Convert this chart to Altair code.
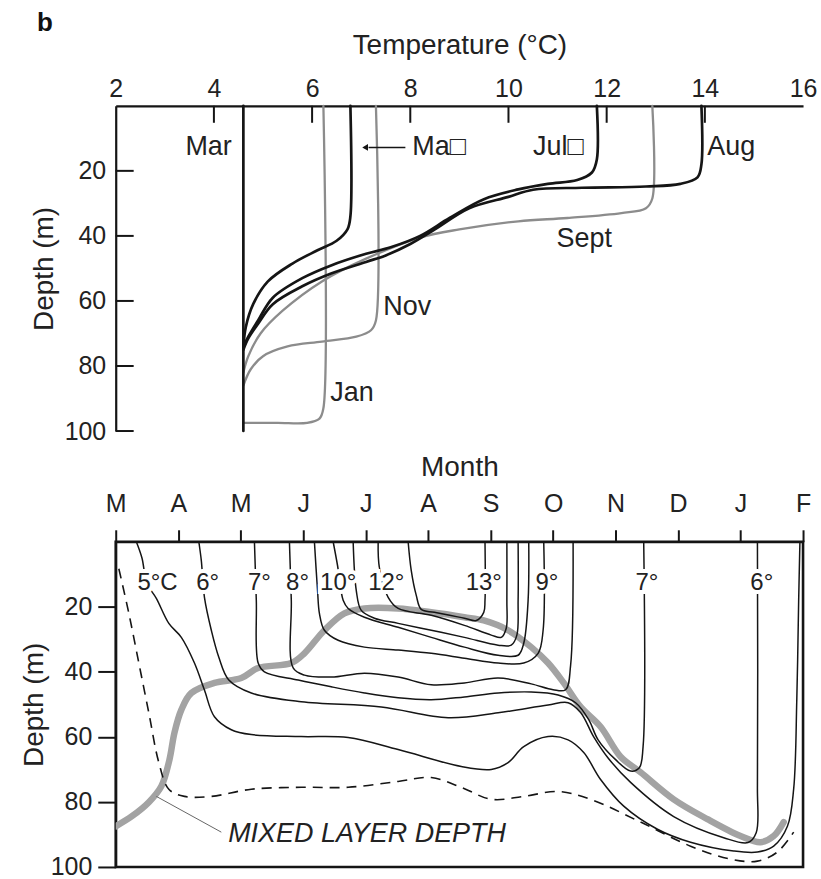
import altair as alt
import pandas as pd

FONT = "Liberation Sans"
INK = "#151515"

# ---------------- top panel: temperature profiles ----------------
TEMP_TICKS = [2, 4, 6, 8, 10, 12, 14, 16]
INNER_TEMP_TICKS = [4, 6, 8, 10, 12, 14]
DEPTH_TICKS = [20, 40, 60, 80, 100]

MAR_T = [4.6, 4.6]
MAR_D = [0, 100]
MAY_T = [6.78, 6.78, 6.72, 6.5, 6.1, 5.6, 5.1, 4.8, 4.65, 4.6]
MAY_D = [0, 34, 38, 41.5, 44.5, 48.5, 54, 61, 68, 74]
JUL_T = [11.8, 11.8, 11.7, 11.4, 10.8, 10.2, 9.5, 8.8, 8.2, 7.6, 7.1, 6.4, 5.8, 5.2, 4.9, 4.7, 4.6]
JUL_D = [0, 16.5, 20.5, 22.8, 24, 25.7, 28.7, 34.5, 40, 43.5, 45.5, 49, 53, 59, 66, 71, 74]
AUG_T = [13.93, 13.93, 13.85, 13.5, 12.8, 11.5, 10.5, 10.0, 9.2, 8.5, 8.0, 7.5, 7.1, 6.4, 5.8, 5.2, 4.9, 4.7, 4.6]
AUG_D = [0, 18, 22, 24, 24.8, 25.2, 25.8, 28, 31.5, 38, 42.5, 46, 48, 51.5, 55.5, 61, 67, 71.5, 75]
SEPT_T = [12.93, 12.93, 12.8, 12.3, 11.2, 10.2, 9.0, 8.2, 7.1, 6.2, 5.4, 4.95, 4.7, 4.6]
SEPT_D = [0, 28.5, 31.5, 33, 34.5, 35.5, 38, 40.5, 47, 54, 63, 70, 77, 82]
NOV_T = [7.3, 7.3, 7.2, 6.9, 6.2, 5.5, 5.0, 4.75, 4.6]
NOV_D = [0, 66, 69, 71, 72.5, 74, 77, 81, 86]
JAN_T = [6.23, 6.23, 6.15, 5.9, 5.3, 4.6]
JAN_D = [0, 93, 96.2, 97.5, 97.5, 97.5]

BLACK_PROFILES = {"Mar": (MAR_T, MAR_D), "May": (MAY_T, MAY_D),
                  "Jul": (JUL_T, JUL_D), "Aug": (AUG_T, AUG_D)}
GREY_PROFILES = {"Sept": (SEPT_T, SEPT_D), "Nov": (NOV_T, NOV_D), "Jan": (JAN_T, JAN_D)}

TLAB_TEXT = ["Mar", "Ma\u25a1", "Jul\u25a1", "Aug", "Sept", "Nov", "Jan"]
TLAB_T = [3.42, 8.04, 10.5, 14.05, 10.98, 7.45, 6.37]
TLAB_D = [12.8, 12.8, 12.8, 12.8, 41, 61.8, 88.4]

ARROW_T = [7.9, 7.15]
ARROW_D = [12.8]
ARROW_HEAD_T = [7.08]

# ---------------- bottom panel: isotherms by month ----------------
MONTH_LETTERS = ["M", "A", "M", "J", "J", "A", "S", "O", "N", "D", "J", "F"]

C5_M = [0.33, 0.42, 0.5, 0.65, 0.85, 1.05, 1.26, 1.42, 1.58, 1.85, 2.17, 2.97, 3.72, 4.52, 5.53, 6.01,
        6.28, 6.53, 6.92, 7.24, 7.49, 7.76, 8.13, 8.67, 9.2, 9.89, 10.27, 10.53, 10.75, 10.85, 10.9, 10.93, 10.95]
C5_D = [0, 5, 12.8, 17.4, 25.1, 29.4, 37.3, 45.6, 53.8, 57.8, 59.3, 59.9, 60.2, 63.9, 69.1, 70,
        67.9, 63, 59.9, 60.9, 64.8, 73.1, 81.3, 88.4, 92.4, 95.1, 95.4, 93.6, 87.5, 76, 48.6, 18, 0]
C6_M = [1.33, 1.37, 1.42, 1.53, 1.65, 1.81, 2.17, 2.97, 4.25, 5.32, 6.12, 6.92, 7.24, 7.44, 7.65, 7.88,
        8.24, 8.93, 9.73, 10.12, 10.25, 10.27, 10.27]
C6_D = [0, 5.8, 17.1, 27.2, 35.5, 42.5, 46.5, 49.2, 50.8, 54.1, 52.6, 50.2, 49.5, 52.5, 60, 66.5,
        74, 84.5, 91, 92.5, 89.5, 75, 0]
C7_M = [2.22, 2.25, 2.28, 2.38, 2.92, 3.45, 3.98, 4.52, 5.05, 5.58, 6.12, 6.65, 7.08, 7.36, 7.57, 7.72,
        8.0, 8.24, 8.38, 8.44, 8.45]
C7_D = [0, 18, 37.3, 40, 42.5, 44.6, 46.5, 48, 48.6, 47.7, 46.5, 46.2, 47.1, 49.5, 54.7, 60.9,
        67, 70.5, 69.5, 63, 0]
C8_M = [2.78, 2.81, 2.84, 3.02, 3.45, 3.98, 4.52, 5.05, 5.58, 6.12, 6.65, 7.0, 7.2, 7.28, 7.32]
C8_D = [0, 18, 38.8, 41, 41.6, 40.4, 41.6, 44, 43.4, 41.9, 43.7, 45.5, 45.5, 38, 0]
C9_M = [3.18, 3.23, 3.26, 3.34, 3.56, 3.98, 4.52, 5.05, 5.58, 6.12, 6.53, 6.76, 6.84, 6.85]
C9_D = [0, 15, 22, 27.2, 30.3, 32.4, 33.3, 34.3, 35.8, 37.3, 37.3, 34.3, 27.2, 0]
C10_M = [3.48, 3.55, 3.64, 3.72, 3.98, 4.52, 5.05, 5.58, 6.12, 6.44, 6.53, 6.6, 6.61]
C10_D = [0, 7.3, 18, 20.5, 23.2, 26.3, 29.4, 32.4, 34.9, 34.9, 31.2, 18, 0]
C11_M = [3.8, 3.85, 3.93, 4.14, 4.52, 5.05, 5.58, 6.12, 6.33, 6.42, 6.44, 6.44]
C11_D = [0, 15, 21.1, 23.5, 25.1, 27.2, 29.4, 31.8, 31.8, 28.7, 18, 0]
C12_M = [4.2, 4.22, 4.36, 4.52, 5.05, 5.58, 6.01, 6.17, 6.25, 6.26, 6.26]
C12_D = [0, 8, 17.1, 20.5, 22.6, 25.7, 28.7, 29.4, 26.6, 18, 0]
C13_M = [4.68, 4.73, 4.81, 4.89, 5.1, 5.58, 5.77, 5.89, 5.91, 5.91]
C13_D = [0, 8.9, 16.5, 20.8, 21.7, 23.5, 24.2, 21.7, 18, 0]

ISOTHERMS = {"5": (C5_M, C5_D), "6": (C6_M, C6_D), "7": (C7_M, C7_D), "8": (C8_M, C8_D),
             "9": (C9_M, C9_D), "10": (C10_M, C10_D), "11": (C11_M, C11_D),
             "12": (C12_M, C12_D), "13": (C13_M, C13_D)}

MLD_M = [0, 0.26, 0.53, 0.73, 0.86, 0.94, 1.05, 1.21, 1.58, 2.01, 2.28, 2.81, 3.02, 3.34, 3.66, 3.98,
         4.52, 5.05, 5.58, 5.89, 6.28, 6.65, 6.92, 7.17, 7.44, 7.76, 8.08, 8.4, 8.93, 9.47, 10.0,
         10.32, 10.53, 10.69]
MLD_D = [87.5, 84.4, 80.1, 75.2, 67, 58.7, 51.7, 46.5, 43.4, 41.9, 38.8, 37.3, 34.3, 27.2, 22, 20.5,
         20.5, 21.7, 23.2, 24.2, 27.2, 32.4, 37.3, 43.4, 50.8, 56.9, 66.1, 70.9, 79.2, 85.3, 90.5,
         92.4, 90.5, 86.2]

DASH_M = [0.05, 0.21, 0.37, 0.53, 0.69, 0.85, 1.1, 1.53, 2.17, 2.97, 3.72, 4.52, 5.05, 5.53, 6.01,
          6.53, 7.08, 7.6, 8.4, 9.2, 9.84, 10.27, 10.59, 10.85]
DASH_D = [8.3, 22, 37.3, 52.6, 67.9, 76.1, 78.3, 78.3, 76.1, 75.5, 75.5, 73.7, 72.5, 75.5, 79.2,
          78.3, 76.8, 79.2, 86.2, 93.6, 97.6, 98.2, 95.4, 89.3]

LEADER_M = [1.69, 0.65]
LEADER_D = [89.3, 78.3]

CLAB_TEXT = ["5°C", "6°", "7°", "8°", "10°", "12°", "13°", "9°", "7°", "6°"]
CLAB_M = [0.67, 1.47, 2.3, 2.91, 3.56, 4.33, 5.89, 6.9, 8.5, 10.34]
CLAB_D = [12.8] * 10

MLD_TEXT = ["MIXED LAYER DEPTH"]
MLD_TEXT_M = [1.8]
MLD_TEXT_D = [90]


def path_frame(curves, xname):
    rows = []
    for name, (xs, ds) in curves.items():
        for i, (xv, dv) in enumerate(zip(xs, ds)):
            rows.append({"name": name, "idx": i, xname: xv, "d": dv})
    return pd.DataFrame(rows)


LBL = 25
TTL = 28

# ---------------- top panel chart ----------------
x_top = alt.X("t:Q", scale=alt.Scale(domain=[2, 16], nice=False, zero=False),
              axis=alt.Axis(orient="top", values=TEMP_TICKS, ticks=False, grid=False, labelFlush=False,
                            domainColor=INK, domainWidth=2.2, labelFontSize=LBL, labelColor="#222",
                            labelPadding=4, title="Temperature (°C)", titleFontSize=TTL,
                            titleFontWeight="normal", titleColor="#222", titlePadding=17))
y_top = alt.Y("d:Q", scale=alt.Scale(domain=[0, 100], reverse=True, nice=False, zero=False),
              axis=alt.Axis(orient="left", values=DEPTH_TICKS, ticks=False, grid=False,
                            domainColor=INK, domainWidth=2.2, labelFontSize=LBL, labelColor="#222",
                            labelPadding=10, title="Depth (m)", titleFontSize=TTL,
                            titleFontWeight="normal", titleColor="#222", titlePadding=6))

grey_lines = alt.Chart(path_frame(GREY_PROFILES, "t")).mark_line(
    interpolate="catmull-rom", color="#8c8c8c", strokeWidth=2.3, strokeCap="round").encode(
    x=x_top, y=y_top, detail="name:N", order="idx:Q")
black_lines = alt.Chart(path_frame(BLACK_PROFILES, "t")).mark_line(
    interpolate="catmull-rom", color=INK, strokeWidth=2.7, strokeCap="round").encode(
    x=x_top, y=y_top, detail="name:N", order="idx:Q")

tick_x = alt.Chart(pd.DataFrame({"t": INNER_TEMP_TICKS})).mark_rule(color=INK, strokeWidth=2).encode(
    x=x_top, y=alt.value(0), y2=alt.value(17))
tick_y = alt.Chart(pd.DataFrame({"d": DEPTH_TICKS})).mark_rule(color=INK, strokeWidth=2).encode(
    y=y_top, x=alt.value(0), x2=alt.value(18))

top_labels = alt.Chart(pd.DataFrame({"label": TLAB_TEXT, "t": TLAB_T, "d": TLAB_D})).mark_text(
    align="left", baseline="middle", fontSize=27, color="#222", font=FONT).encode(
    x=x_top, y=y_top, text="label:N")

arrow_line = alt.Chart(pd.DataFrame({"t": [ARROW_T[0]], "t2": [ARROW_T[1]], "d": ARROW_D})).mark_rule(
    color=INK, strokeWidth=1.6).encode(x=x_top, x2="t2:Q", y=y_top)
arrow_head = alt.Chart(pd.DataFrame({"t": ARROW_HEAD_T, "d": ARROW_D})).mark_point(
    shape="triangle-left", filled=True, size=45, color=INK, opacity=1).encode(x=x_top, y=y_top)

top = alt.layer(grey_lines, black_lines, tick_x, tick_y, top_labels, arrow_line, arrow_head).properties(
    width=689, height=326)

# ---------------- bottom panel chart ----------------
month_expr = "[" + ",".join("'%s'" % c for c in MONTH_LETTERS) + "][datum.value]"
x_bot = alt.X("m:Q", scale=alt.Scale(domain=[0, 11], nice=False, zero=False),
              axis=alt.Axis(orient="top", values=list(range(len(MONTH_LETTERS))), labelExpr=month_expr,
                            tickSize=12, tickWidth=2, tickColor=INK, grid=False, labelFlush=False,
                            domainColor=INK, domainWidth=2.2, labelFontSize=LBL, labelColor="#222",
                            labelPadding=13, title="Month", titleFontSize=TTL, titleFontWeight="normal",
                            titleColor="#222", titlePadding=10))
y_bot = alt.Y("d:Q", scale=alt.Scale(domain=[0, 100], reverse=True, nice=False, zero=False),
              axis=alt.Axis(orient="left", values=DEPTH_TICKS, tickSize=18, tickWidth=2, tickColor=INK,
                            grid=False, domainColor=INK, domainWidth=2.2, labelFontSize=LBL,
                            labelColor="#222", labelPadding=6, title="Depth (m)", titleFontSize=TTL,
                            titleFontWeight="normal", titleColor="#222", titlePadding=2))

mld = alt.Chart(pd.DataFrame({"m": MLD_M, "d": MLD_D, "idx": range(len(MLD_M))})).mark_line(
    interpolate="catmull-rom", color="#a3a3a3", strokeWidth=6.5, strokeCap="round", clip=True).encode(
    x=x_bot, y=y_bot, order="idx:Q")
dashed = alt.Chart(pd.DataFrame({"m": DASH_M, "d": DASH_D, "idx": range(len(DASH_M))})).mark_line(
    interpolate="catmull-rom", color=INK, strokeWidth=1.6, strokeDash=[10, 7]).encode(
    x=x_bot, y=y_bot, order="idx:Q")
iso = alt.Chart(path_frame(ISOTHERMS, "m")).mark_line(
    interpolate="catmull-rom", color=INK, strokeWidth=1.5, clip=True).encode(
    x=x_bot, y=y_bot, detail="name:N", order="idx:Q")
leader = alt.Chart(pd.DataFrame({"m": LEADER_M, "d": LEADER_D, "idx": [0, 1]})).mark_line(
    color="#666", strokeWidth=1).encode(x=x_bot, y=y_bot, order="idx:Q")

clab_df = pd.DataFrame({"label": CLAB_TEXT, "m": CLAB_M, "d": CLAB_D})
clab_halo = alt.Chart(clab_df).mark_text(
    fontSize=24, font=FONT, color="white", stroke="white", strokeWidth=8, baseline="middle").encode(
    x=x_bot, y=y_bot, text="label:N")
clab = alt.Chart(clab_df).mark_text(
    fontSize=24, font=FONT, color="#222", baseline="middle").encode(x=x_bot, y=y_bot, text="label:N")
mld_text = alt.Chart(pd.DataFrame({"label": MLD_TEXT, "m": MLD_TEXT_M, "d": MLD_TEXT_D})).mark_text(
    fontSize=27, font=FONT, fontStyle="italic", color="#222", align="left", baseline="middle").encode(
    x=x_bot, y=y_bot, text="label:N")

bottom = alt.layer(mld, dashed, iso, leader, clab_halo, clab, mld_text).properties(
    width=689, height=326, view=alt.ViewBackground(stroke=INK, strokeWidth=2.6))

chart = alt.vconcat(top, bottom, spacing=8).properties(
    title=alt.TitleParams("b", anchor="start", fontSize=26, fontWeight="bold", font=FONT,
                          color="#111", offset=-4, dx=18),
    padding={"left": 18, "top": 9, "right": 4, "bottom": 2},
).configure_view(strokeWidth=0).configure_axis(labelFont=FONT, titleFont=FONT)

chart.save("out.html", embed_options={"renderer": "svg", "actions": False})
